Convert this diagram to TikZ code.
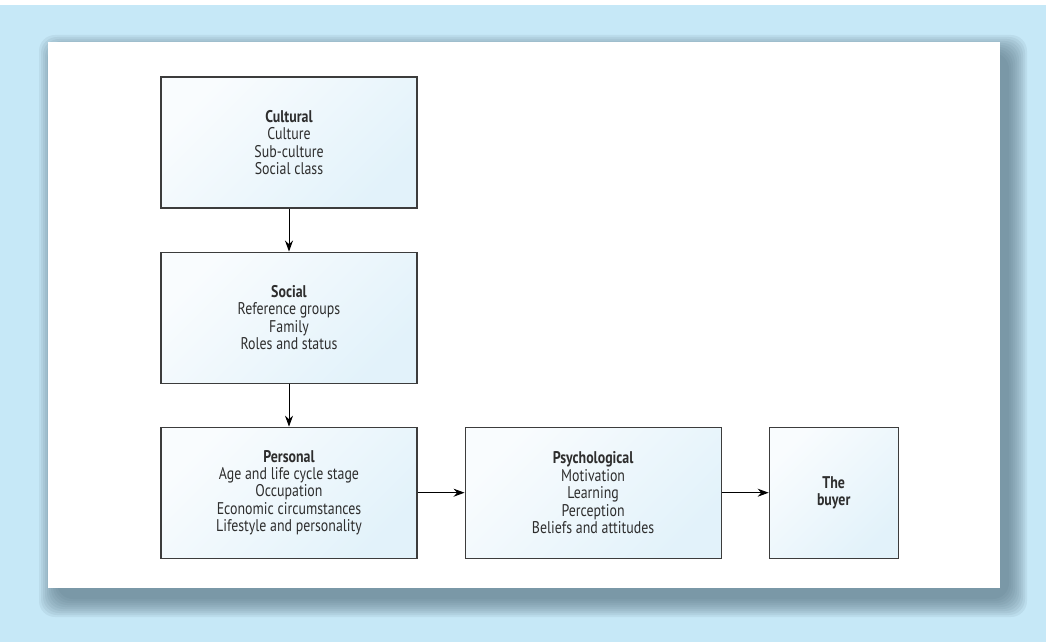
\documentclass[tikz,border=0pt]{standalone}
\usepackage{fontspec}
\setmainfont{PT Sans}[FakeStretch=0.82]
\usetikzlibrary{positioning,arrows.meta}

\definecolor{bgblue}{HTML}{C6E8F7}
\definecolor{shadowgrey}{HTML}{4F6B7A}
\definecolor{boxline}{HTML}{3C3C3C}
\definecolor{boxlight}{HTML}{F9FCFE}
\definecolor{boxdark}{HTML}{E2F2FA}
\definecolor{txt}{HTML}{2E2E2E}

\tikzset{
  factor/.style={rectangle,draw=boxline,line width=1.1bp,
    top color=boxlight,bottom color=boxdark,shading angle=45,
    align=center,text=txt,font=\fontsize{17}{17.5}\selectfont,
    minimum width=256bp,minimum height=131bp,inner sep=0pt},
  link/.style={-{Stealth[length=11bp,width=8bp]},line width=1bp}
}

\begin{document}
\begin{tikzpicture}[x=1bp,y=1bp,node distance=43bp and 47bp]

\useasboundingbox (0,0) rectangle (1046,-642);
\fill[bgblue] (0,-5) rectangle (1046,-642);

% panel with soft shadow
\foreach \s in {0,2,...,18}
  \fill[shadowgrey,opacity=0.09,rounded corners=16bp]
    (57-\s,-53+\s) rectangle (1009+\s,-599-\s);
\fill[white] (48,-42) rectangle (1000,-588);

\node (cult) [factor] at (289,-142.5) {\textbf{Cultural}\\Culture\\Sub-culture\\Social class};

\node (soc) [factor,below=of cult] {\textbf{Social}\\Reference groups\\Family\\Roles and status};

\node (pers) [factor,below=of soc] {\textbf{Personal}\\Age and life cycle stage\\Occupation\\Economic circumstances\\Lifestyle and personality};

\node (psy) [factor,right=of pers] {\textbf{Psychological}\\Motivation\\Learning\\Perception\\Beliefs and attitudes};

\node (buyer) [factor,right=of psy,minimum width=129bp,font=\fontsize{17}{17.5}\selectfont\bfseries] {The\\buyer};

\draw[link] (cult) -- (soc);
\draw[link] (soc) -- (pers);
\draw[link] (pers) -- (psy);
\draw[link] (psy) -- (buyer);

\end{tikzpicture}
\end{document}
